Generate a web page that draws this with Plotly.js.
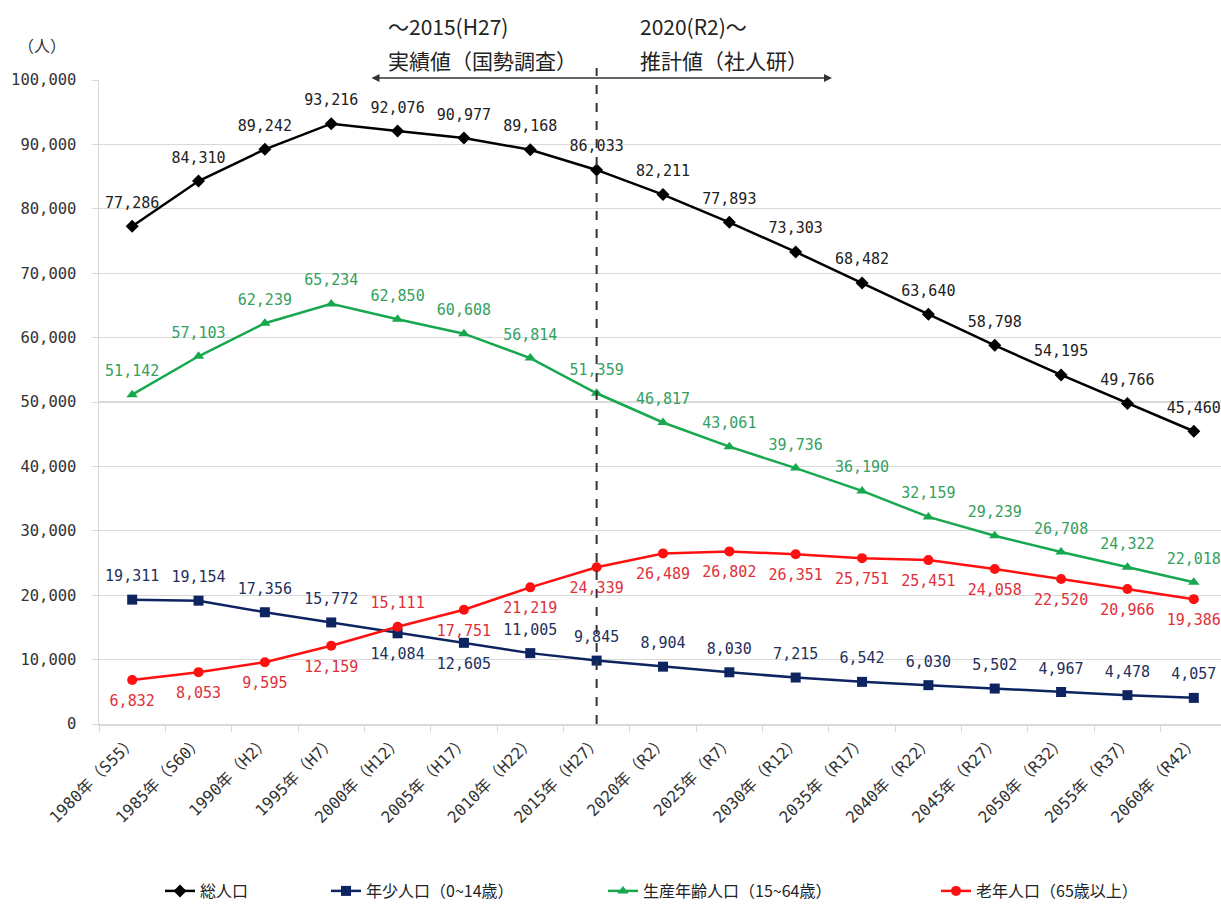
<!DOCTYPE html>
<html>
<head>
<meta charset="utf-8">
<script src="https://cdn.plot.ly/plotly-3.0.1.min.js"></script>
<style>
html,body{margin:0;padding:0;background:#fff;overflow:hidden;}
#chart{width:1221px;height:908px;}
</style>
</head>
<body>
<div id="chart"></div>
<script>
// ---- data ----
const categories = [
  "1980年（S55）","1985年（S60）","1990年（H2）","1995年（H7）","2000年（H12）",
  "2005年（H17）","2010年（H22）","2015年（H27）","2020年（R2）","2025年（R7）",
  "2030年（R12）","2035年（R17）","2040年（R22）","2045年（R27）","2050年（R32）",
  "2055年（R37）","2060年（R42）"
];
const totalPop = [77286,84310,89242,93216,92076,90977,89168,86033,82211,77893,73303,68482,63640,58798,54195,49766,45460];
const youngPop = [19311,19154,17356,15772,14084,12605,11005,9845,8904,8030,7215,6542,6030,5502,4967,4478,4057];
const workingPop = [51142,57103,62239,65234,62850,60608,56814,51359,46817,43061,39736,36190,32159,29239,26708,24322,22018];
const elderlyPop = [6832,8053,9595,12159,15111,17751,21219,24339,26489,26802,26351,25751,25451,24058,22520,20966,19386];

const seriesNames = ["総人口","年少人口（0~14歳）","生産年齢人口（15~64歳）","老年人口（65歳以上）"];
const yTickVals = [0,10000,20000,30000,40000,50000,60000,70000,80000,90000,100000];
const boundaryYearIndex = 7; // 2015

// label placement (above / below)
const youngBelow = [4,5];
const elderlyAbove = [4];

const numFont = "DejaVu Sans Mono, Noto Sans CJK JP, sans-serif";
const cjkFont = "Noto Sans CJK JP, sans-serif";

function pos(arr, above){ return arr.map((v,i)=> above(i) ? "top center" : "bottom center"); }

const seriesStyle = [
  {y: totalPop,   color: "#000000", symbol: "diamond",     size: 10, txt: "#222222", tpos: "top center", legend: "legend"},
  {y: youngPop,   color: "#0d2461", symbol: "square",      size: 10, txt: "#23305c", tpos: pos(youngPop, i => youngBelow.indexOf(i) < 0), legend: "legend2"},
  {y: workingPop, color: "#17a84e", symbol: "triangle-up", size: 10, txt: "#34a060", tpos: "top center", legend: "legend3"},
  {y: elderlyPop, color: "#ff1010", symbol: "circle",      size: 10, txt: "#e0303a", tpos: pos(elderlyPop, i => elderlyAbove.indexOf(i) >= 0), legend: "legend4"}
];

const traces = [];
seriesStyle.forEach((s, k) => {
  traces.push({
    x: categories, y: s.y, name: seriesNames[k], type: "scatter", mode: "lines+markers",
    line: {color: s.color, width: 2.5},
    marker: {symbol: s.symbol, size: s.size, color: s.color},
    cliponaxis: false, legend: s.legend
  });
});
// data labels (transparent larger marker gives the label offset)
seriesStyle.forEach((s, k) => {
  traces.push({
    x: categories, y: s.y, name: seriesNames[k] + " label", type: "scatter", mode: "markers+text",
    marker: {size: 22, color: "rgba(0,0,0,0)"},
    texttemplate: "%{y:,}", textposition: s.tpos,
    textfont: {family: numFont, size: 15, color: s.txt},
    cliponaxis: false, showlegend: false, hoverinfo: "skip", legend: s.legend
  });
});

// pixel helpers for paper coords (plot area: left 99, right 1221, top 80, bottom 730)
const L = 99, R = 1221, T = 80, B = 730;
const px = v => (v - L) / (R - L);
const py = v => (B - v) / (B - T);

function legendAt(textStart){
  return {orientation: "h", x: px(textStart - 42), xanchor: "left", y: py(899), yanchor: "middle",
          font: {family: cjkFont, size: 16, color: "#222"}, bgcolor: "rgba(0,0,0,0)"};
}

const annFont = {family: cjkFont, size: 21, color: "#222"};

const layout = {
  width: 1221, height: 908,
  margin: {l: L, r: 1221 - R, t: T, b: 908 - B},
  paper_bgcolor: "#ffffff", plot_bgcolor: "#ffffff",
  font: {family: numFont, color: "#333"},
  showlegend: true,
  xaxis: {
    type: "category", range: [-0.5, 16.41],
    showgrid: false, showline: true, linecolor: "#d9d9d9", linewidth: 1.5,
    ticks: "outside", tickson: "boundaries", ticklen: 6, tickcolor: "#d9d9d9",
    tickangle: -45, tickfont: {family: numFont, size: 16, color: "#333"},
    zeroline: false, fixedrange: true
  },
  yaxis: {
    range: [0, 100000], tickvals: yTickVals, tickformat: ",d",
    showgrid: true, gridcolor: "#d9d9d9", gridwidth: 1.2,
    showline: true, linecolor: "#d9d9d9", linewidth: 1.5,
    ticks: "outside", ticklen: 6, tickcolor: "#d9d9d9",
    ticklabelstandoff: 12,
    tickfont: {family: numFont, size: 15.5, color: "#333"},
    zeroline: false, fixedrange: true
  },
  legend: legendAt(202),
  legend2: legendAt(368),
  legend3: legendAt(645),
  legend4: legendAt(978),
  shapes: [
    {type: "line", xref: "x", yref: "paper", x0: boundaryYearIndex, x1: boundaryYearIndex,
     y0: 0, y1: py(68), line: {color: "#333", width: 2, dash: "dash"}}
  ],
  annotations: [
    {xref: "paper", yref: "paper", x: px(42), y: py(45), xanchor: "center", yanchor: "middle", text: "（人）", showarrow: false,
     font: {family: cjkFont, size: 16, color: "#333"}},
    {xref: "paper", yref: "paper", x: px(386), y: py(25), xanchor: "left", yanchor: "middle", text: "～2015(H27)", showarrow: false, font: annFont},
    {xref: "paper", yref: "paper", x: px(386), y: py(60), xanchor: "left", yanchor: "middle", text: "実績値（国勢調査）", showarrow: false, font: annFont},
    {xref: "paper", yref: "paper", x: px(638), y: py(25), xanchor: "left", yanchor: "middle", text: "2020(R2)～", showarrow: false, font: annFont},
    {xref: "paper", yref: "paper", x: px(638), y: py(60), xanchor: "left", yanchor: "middle", text: "推計値（社人研）", showarrow: false, font: annFont},
    {xref: "paper", yref: "paper", x: px(832), y: py(78), ax: 370 - 832, ay: 0, axref: "pixel", ayref: "pixel",
     text: "", showarrow: true, arrowside: "end+start", arrowhead: 2, arrowsize: 1, arrowwidth: 1.6, arrowcolor: "#333"}
  ]
};

Plotly.newPlot("chart", traces, layout, {staticPlot: true, displayModeBar: false});
</script>
</body>
</html>
